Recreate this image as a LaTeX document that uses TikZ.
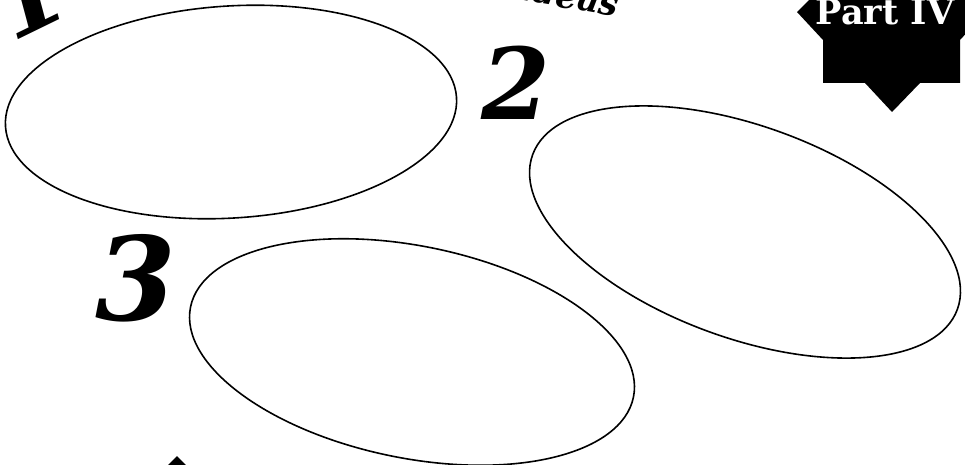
\documentclass[tikz,border=0pt]{standalone}
\usepackage{fontspec}
\setmainfont{DejaVu Serif}
\usetikzlibrary{shapes.geometric}
\tikzset{
  oval/.style={draw=black, line width=1.6pt, ellipse, inner sep=0pt,
    minimum width=452pt, minimum height=212pt},
  bignum/.style={inner sep=0pt, font=\bfseries\itshape},
  badge/.style={fill=black, draw=none},
  badgetext/.style={inner sep=0pt, text=white, font=\bfseries\fontsize{35}{35}\selectfont}
}
\begin{document}
\begin{tikzpicture}[x=1pt,y=-1pt]
\useasboundingbox (0,0) rectangle (965,465);
\clip (0,0) rectangle (965,465);
% ovals
\node[oval, rotate=3.7] (e1) at (231,112) {};
\node[oval, rotate=-20] (e2) at (745,232) {};
\node[oval, rotate=-11.5] (e3) at (412,352) {};
% numbers
\node[bignum, font=\bfseries\itshape\fontsize{100}{100}\selectfont, rotate=26, anchor=south] (n1) at (44,27) {1};
\node[bignum, font=\bfseries\itshape\fontsize{99}{99}\selectfont, anchor=south] (n2) at (516,120) {2};
\node[bignum, font=\bfseries\itshape\fontsize{116}{116}\selectfont, anchor=south] (n3) at (136,322) {3};
% heading fragment
\node[inner sep=0pt, font=\bfseries\itshape\fontsize{34}{34}\selectfont, rotate=-10, anchor=base east] (hd) at (617,17) {ideas};
% badge top right
\path[badge] (797,12) -- (823,40) -- (823,83) -- (865,83) -- (892,112) -- (920,83)
  -- (960,83) -- (960,40) -- (986,12) -- (958,-16) -- (825,-16) -- cycle;
\node[badgetext, anchor=base] (pt) at (885,25) {Part IV};
% badge fragment bottom
\path[badge] (177,456) -- (196,475) -- (158,475) -- cycle;
\end{tikzpicture}
\end{document}
